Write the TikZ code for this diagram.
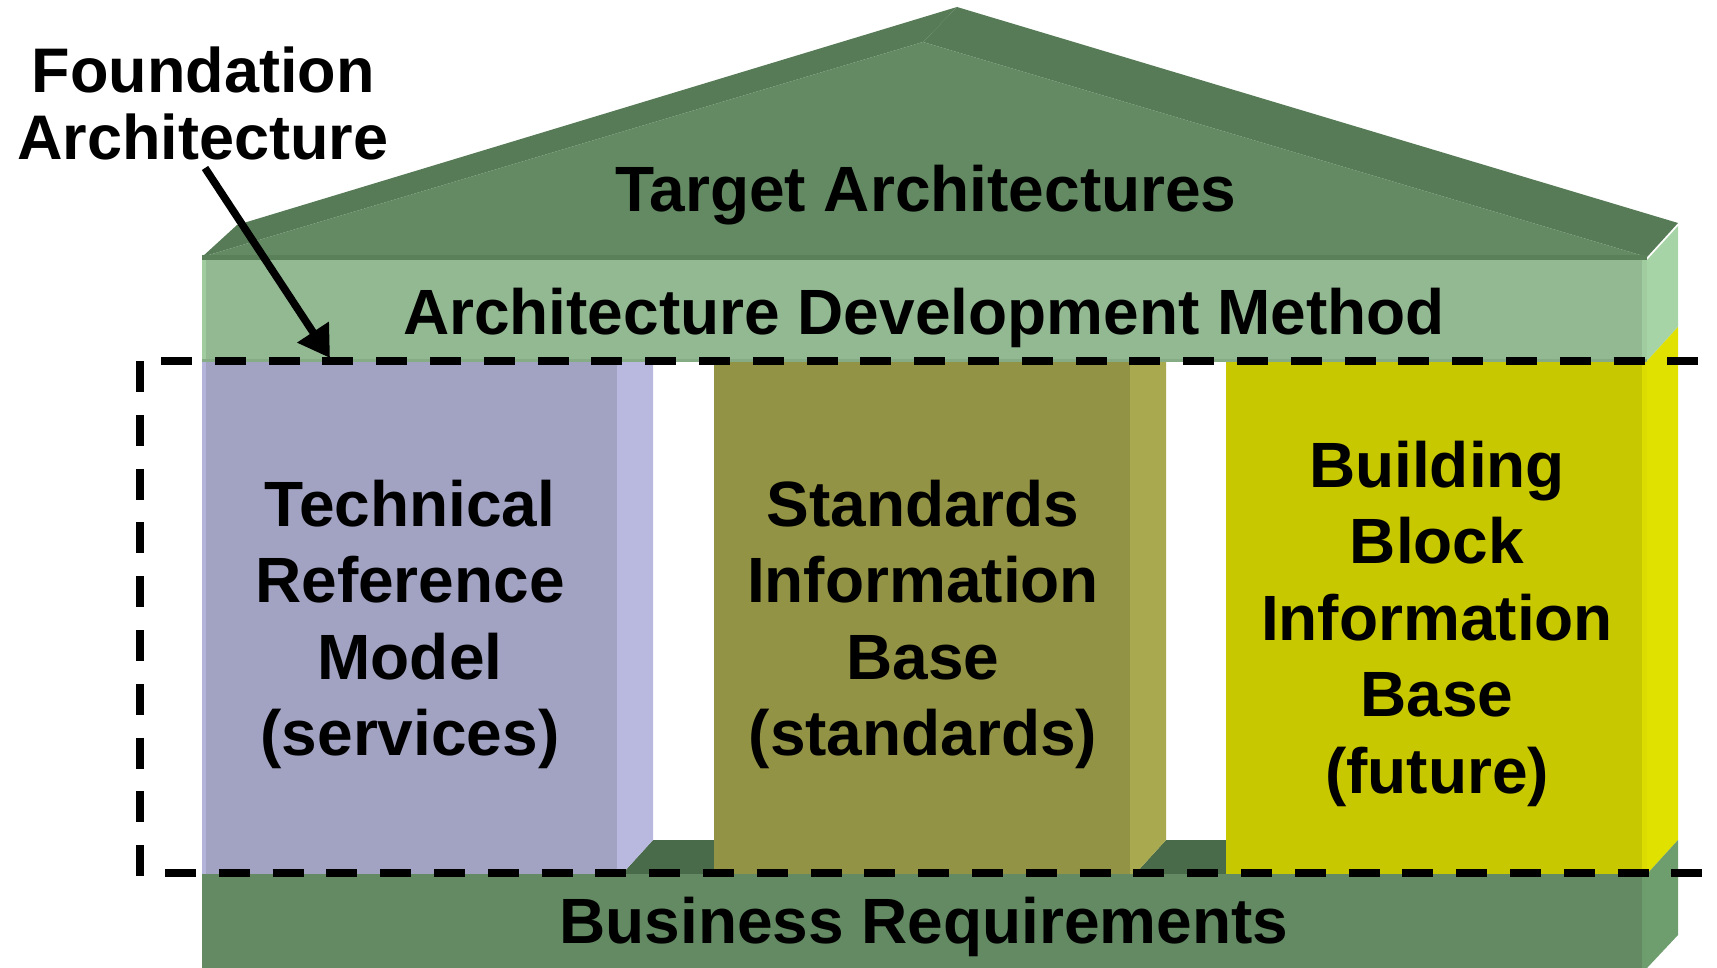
\documentclass[tikz,border=0pt]{standalone}
\usepackage{fontspec}
\setmainfont{Liberation Sans}
\usetikzlibrary{arrows.meta}
\definecolor{roofface}{HTML}{638A63}
\definecolor{roofdark}{HTML}{567B56}
\definecolor{roofline}{HTML}{5A805A}
\definecolor{admface}{HTML}{93B993}
\definecolor{admedge}{HTML}{A0CCA0}
\definecolor{admside}{HTML}{A6D4A6}
\definecolor{admbot}{HTML}{86AC86}
\definecolor{purface}{HTML}{A2A2C3}
\definecolor{purside}{HTML}{B9B9E0}
\definecolor{oliface}{HTML}{939345}
\definecolor{oliside}{HTML}{A9A94F}
\definecolor{yelface}{HTML}{C8C800}
\definecolor{yelside}{HTML}{E1E100}
\definecolor{yeledge}{HTML}{DCDC00}
\definecolor{baseface}{HTML}{638A63}
\definecolor{baseside}{HTML}{6E9E6E}
\definecolor{floorc}{HTML}{4A6B4A}
\tikzset{
  lbl/.style={font=\bfseries\fontsize{32}{38.25}\selectfont, anchor=base, inner sep=0pt},
  flbl/.style={font=\bfseries\fontsize{31.5}{33.5}\selectfont, anchor=base, inner sep=0pt},
  dashline/.style={line width=4pt, dash pattern=on 15.5pt off 11.4pt},
  arrowline/.style={line width=3.8pt, -{Triangle[length=15.5pt,width=18pt]}}
}
\begin{document}
\begin{tikzpicture}[x=0.5pt,y=-0.5pt]
\useasboundingbox (0,0) rectangle (1717,968);
% roof
\fill[roofdark] (202,257) -- (237,225) -- (957,7) -- (923,42) -- cycle;
\fill[roofdark] (957,7) -- (1678,223) -- (1647,257) -- (923,42) -- cycle;
\fill[roofface] (202,257) -- (923,42) -- (1647,257) -- cycle;
\fill[roofline] (202,255) rectangle (1647,260);
% ADM band
\fill[admface] (202,260) rectangle (1647,362);
\fill[admedge] (202,260) rectangle (206,362);
\fill[admedge] (1642,260) rectangle (1647,362);
\fill[admbot] (202,359) rectangle (1647,362);
\fill[admside] (1647,260) -- (1678,226) -- (1678,327) -- (1647,361) -- cycle;
% floors between pillars
\fill[floorc] (622,874) -- (653,840) -- (714,840) -- (714,874) -- cycle;
\fill[floorc] (1135,874) -- (1166,840) -- (1226,840) -- (1226,874) -- cycle;
% pillars
\fill[purface] (202,362) rectangle (617,874);
\fill[purside!80!purface] (202,362) rectangle (206,874);
\fill[purside] (617,362) -- (653,362) -- (653,840) -- (622,874) -- (617,874) -- cycle;
\fill[oliface] (714,362) rectangle (1130,874);
\fill[oliside] (1130,362) -- (1166,362) -- (1166,840) -- (1135,874) -- (1130,874) -- cycle;
\fill[yelface] (1226,362) rectangle (1642,874);
\fill[yeledge] (1642,362) rectangle (1647,874);
\fill[yelside] (1647,361) -- (1678,327) -- (1678,840) -- (1647,874) -- cycle;
% base
\fill[baseface] (202,874) rectangle (1647,968);
\fill[baseside!90!baseface] (1642,874) rectangle (1647,968);
\fill[baseside] (1647,874) -- (1678,840) -- (1678,935) -- (1647,968) -- cycle;
% dashed foundation frame
\coordinate (ftl) at (161,361);
\coordinate (ftr) at (1700,361);
\coordinate (fbl) at (165,873);
\coordinate (fbr) at (1702,873);
\coordinate (fl1) at (140,361);
\coordinate (fl2) at (140,877);
\draw[dashline] (ftl) -- (ftr);
\draw[dashline] (fbl) -- (fbr);
\draw[dashline] (fl1) -- (fl2);
% texts
\node[lbl] (target) at (926,212) {Target Architectures};
\node[lbl] (adm) at (924,334) {Architecture Development Method};
\node[lbl] (business) at (924,943) {Business Requirements};
\node[flbl] (foundation) at (203,93) {\begin{tabular}[t]{@{}c@{}}Foundation\\Architecture\end{tabular}};
\node[lbl] (trm) at (410,526) {\begin{tabular}[t]{@{}c@{}}Technical\\Reference\\Model\\(services)\end{tabular}};
\node[lbl] (sib) at (923,526) {\begin{tabular}[t]{@{}c@{}}Standards\\Information\\Base\\(standards)\end{tabular}};
\node[lbl] (bbib) at (1437,487) {\begin{tabular}[t]{@{}c@{}}Building\\Block\\Information\\Base\\(future)\end{tabular}};
% arrow
\coordinate (atail) at (205,168);
\coordinate (atip) at (330,358);
\draw[arrowline] (atail) -- (atip);
\end{tikzpicture}
\end{document}
